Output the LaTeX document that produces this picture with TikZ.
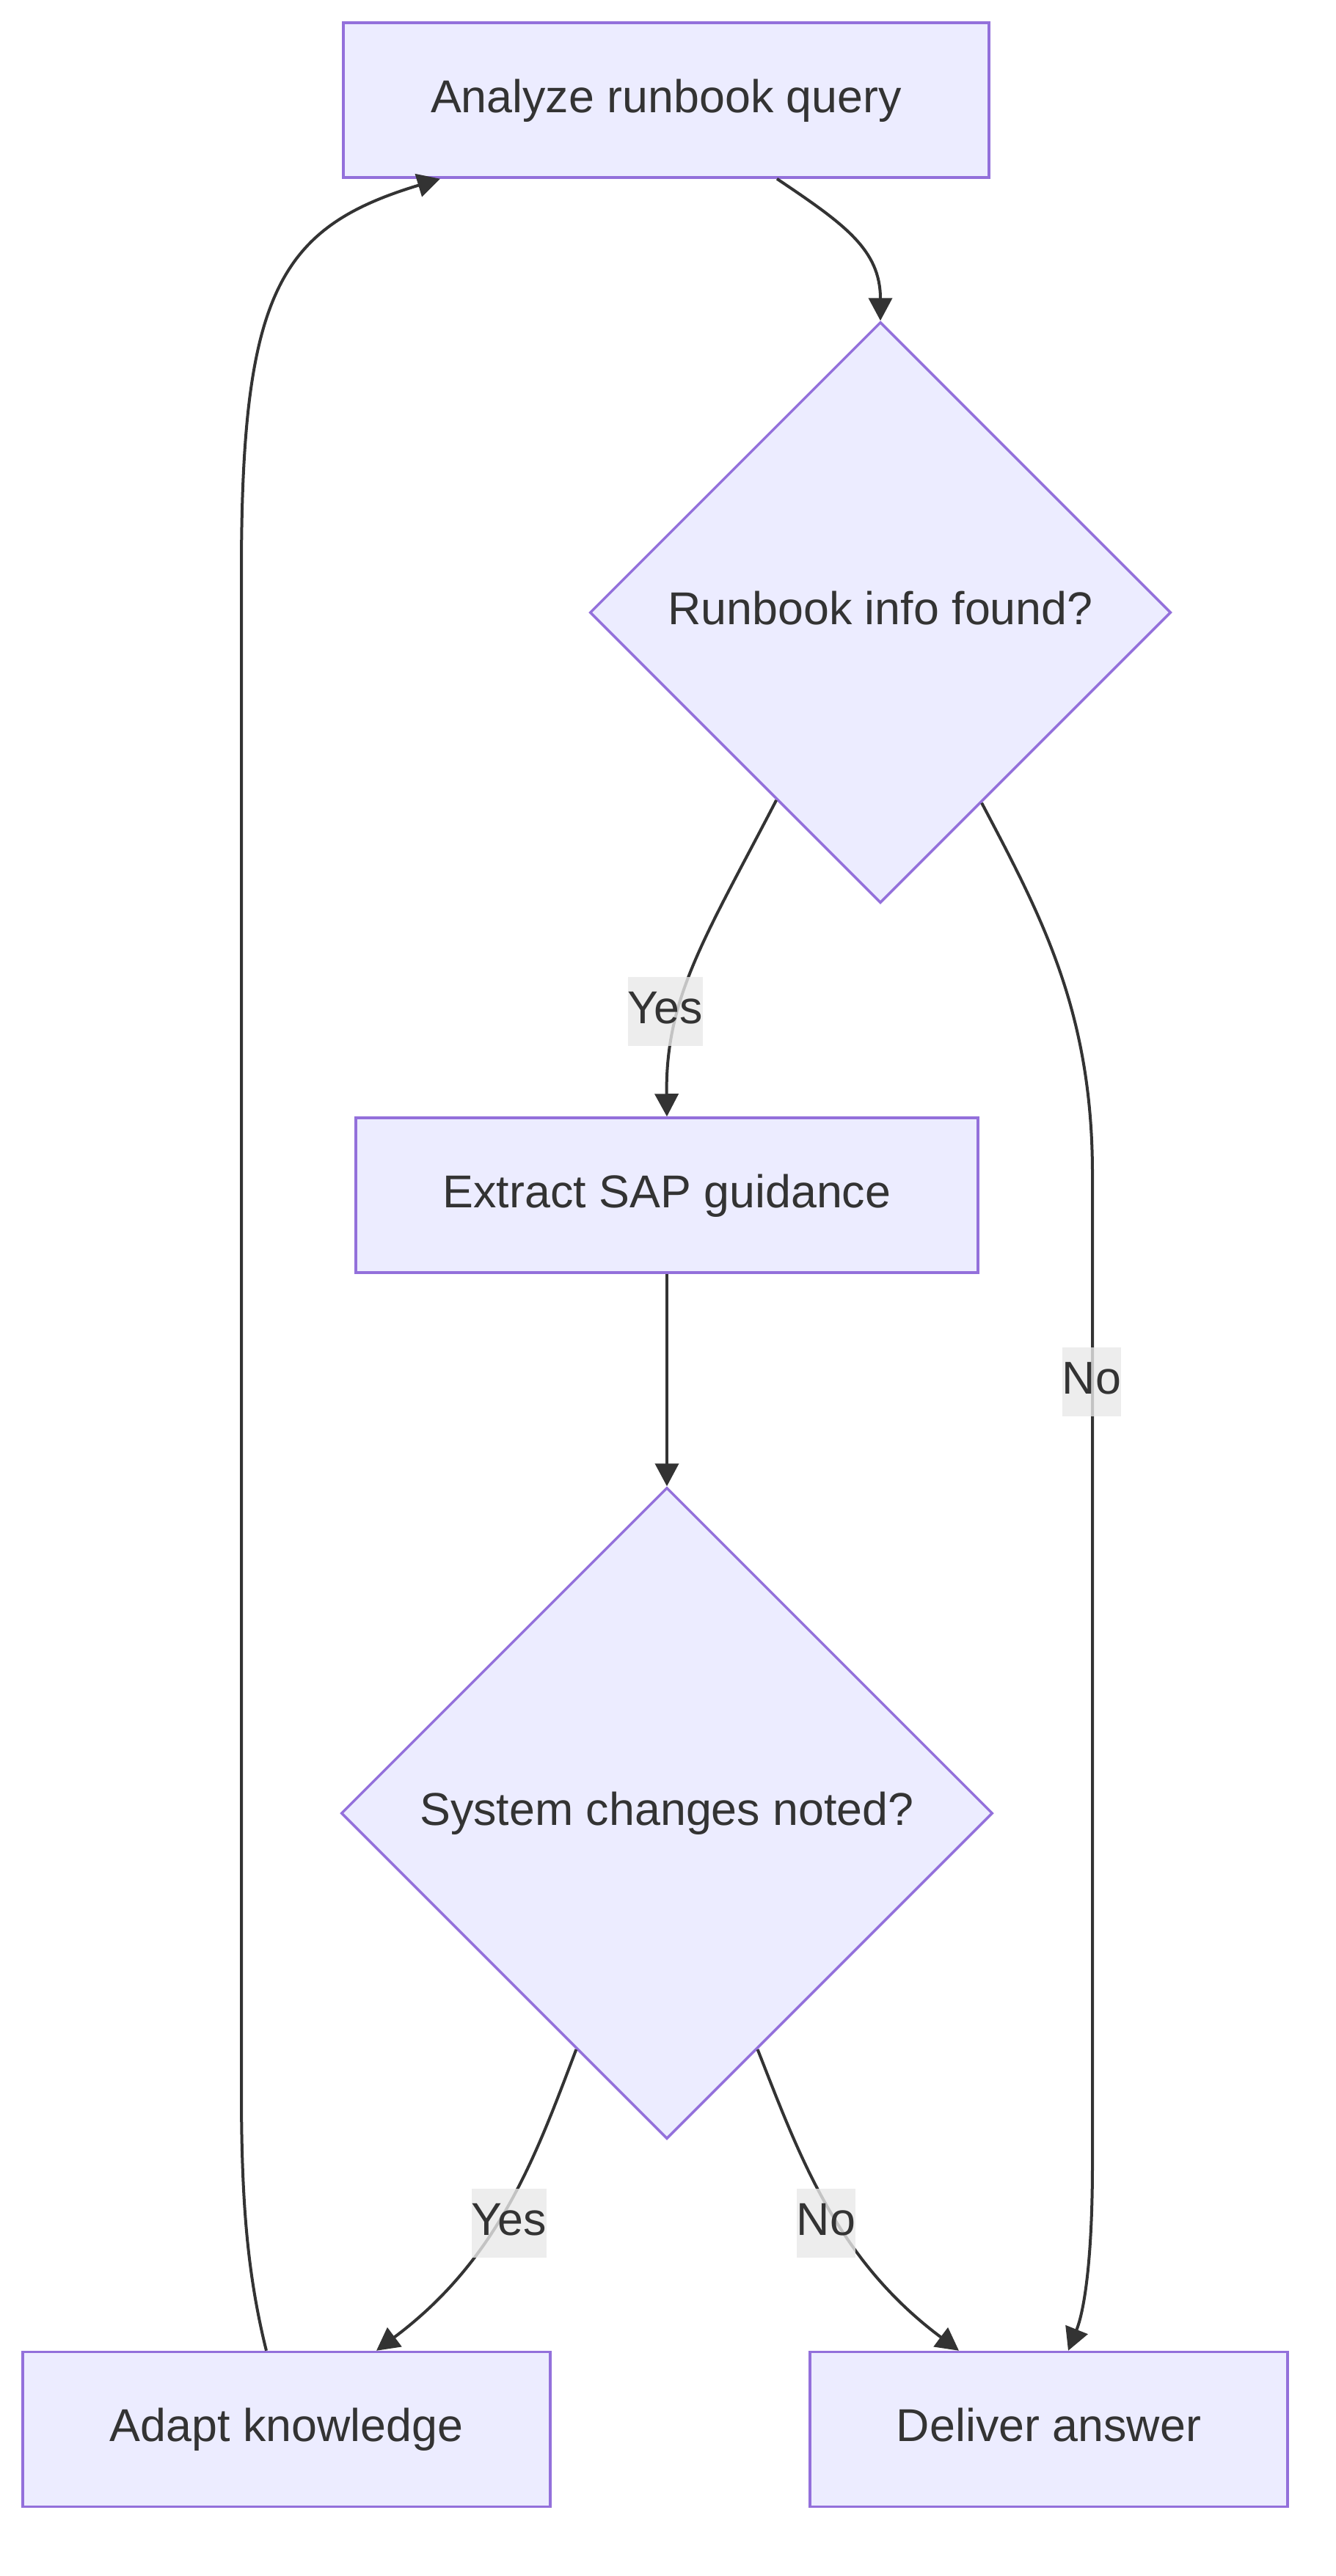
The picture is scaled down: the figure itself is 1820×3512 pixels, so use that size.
\documentclass[tikz,border=0pt]{standalone}
\usepackage{fontspec}
\setmainfont{Liberation Sans}
\usetikzlibrary{shapes.geometric,positioning,arrows.meta}
\definecolor{nodeFill}{HTML}{ECECFF}
\definecolor{nodeLine}{HTML}{9370DB}
\definecolor{ink}{HTML}{333333}
\definecolor{labelBg}{HTML}{E8E8E8}
\tikzset{
  boxtext/.style={text=ink, font=\fontsize{63}{76}\selectfont, text height=46bp, text depth=13bp},
  box/.style={boxtext, draw=nodeLine, line width=3.5bp, fill=nodeFill, minimum height=211bp, inner sep=0pt},
  choice/.style={boxtext, diamond, aspect=1, draw=nodeLine, line width=3.5bp, fill=nodeFill, inner sep=0pt},
  flow/.style={draw=ink, line width=4bp, -{Triangle[length=31bp, width=32bp]}},
  tag/.style={boxtext, fill=labelBg, fill opacity=0.8, text opacity=1, inner sep=0pt, minimum height=94bp}
}

\begin{document}
\begin{tikzpicture}[x=1bp, y=-1bp]
\useasboundingbox (0,0) rectangle (1820,3512);

\foreach \n/\x/\y/\w/\t in {analyze/908/136.5/880/Analyze runbook query, extract/909/1629.5/848/Extract SAP guidance, adapt/390.5/3312/719/Adapt knowledge, deliver/1429.5/3312/651/Deliver answer} {
  \node[box, minimum width=\w bp] (\n) at (\x,\y) {\t};
}
\node[choice, minimum width=792bp, minimum height=792bp] (found) at (1200,835) {Runbook info found?};
\node[choice, minimum width=888bp, minimum height=888bp] (changes) at (909,2472) {System changes noted?};

\draw[flow] ([xshift=151bp]analyze.south) .. controls (1150,305) and (1200,340) .. (found.north);
\draw[flow] (found.241.5) .. controls (960,1280) and (907,1360) .. (extract.north);
\draw[flow] (found.298) .. controls (1420,1250) and (1489,1380) .. (1489,1600) -- (1489,2950)
  .. controls (1489,3080) and (1478,3150) .. ([xshift=26.5bp]deliver.north);
\draw[flow] (extract.south) -- (changes.north);
\draw[flow] (changes.249) .. controls (730,2940) and (680,3080) .. ([xshift=122.5bp]adapt.north);
\draw[flow] (changes.291) .. controls (1090,2940) and (1140,3080) .. ([xshift=-122.5bp]deliver.north);
\draw[flow] ([xshift=-27.5bp]adapt.north) .. controls (337,3100) and (329,3000) .. (329,2850) -- (329,780)
  .. controls (329,400) and (380,310) .. ([xshift=-308bp]analyze.south);

\foreach \n/\x/\y/\t in {yesFound/907/1379/Yes, noFound/1488/1884/No, yesChanges/694/3031/Yes, noChanges/1126/3031/No} {
  \node[tag] (\n) at (\x,\y) {\t};
}
\end{tikzpicture}
\end{document}
